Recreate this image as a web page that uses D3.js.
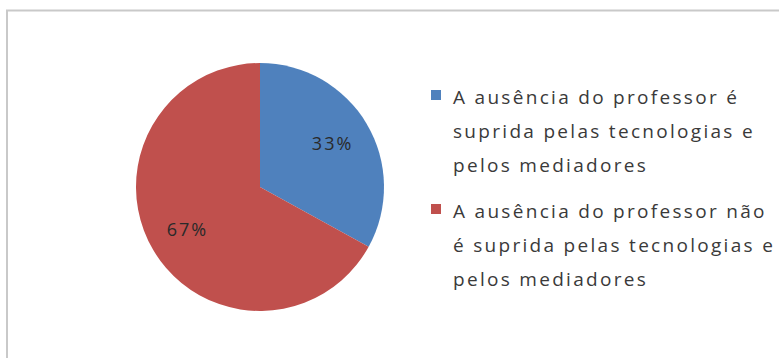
<!DOCTYPE html>
<html>
<head>
<meta charset="utf-8">
<script src="https://cdn.jsdelivr.net/npm/d3@7"></script>
<style>
  html, body { margin: 0; padding: 0; background: #fff; }
  svg { display: block; }
</style>
</head>
<body>
<svg id="chart" width="779" height="358"></svg>
<script>
// Survey answers and their shares (percent)
const categories = [
  "A ausência do professor é suprida pelas tecnologias e pelos mediadores",
  "A ausência do professor não é suprida pelas tecnologias e pelos mediadores"
];
const values = [33, 67];
const valueLabels = ["33%", "67%"];
const legendLines = [
  ["A ausência do professor é", "suprida pelas tecnologias e", "pelos mediadores"],
  ["A ausência do professor não", "é suprida pelas tecnologias e", "pelos mediadores"]
];
const colors = ["#4F81BD", "#C0504D"];

const W = 779, H = 358;
const svg = d3.select("#chart");

// chart frame (right and bottom edges fall outside the view)
svg.append("rect")
  .attr("x", 7).attr("y", 10.5)
  .attr("width", W + 10).attr("height", H + 10)
  .attr("fill", "#fff")
  .attr("stroke", "#c9c9c9")
  .attr("stroke-width", 2);

const cx = 260, cy = 187, R = 124;
const color = d3.scaleOrdinal().domain(d3.range(values.length)).range(colors);

const pie = d3.pie().sort(null).value(d => d);
const arcs = pie(values);
const arc = d3.arc().innerRadius(0).outerRadius(R);
const labelArc = d3.arc().innerRadius(R * 0.68).outerRadius(R * 0.68);

const g = svg.append("g").attr("transform", `translate(${cx},${cy})`);

g.selectAll("path.slice")
  .data(arcs)
  .join("path")
  .attr("class", "slice")
  .attr("d", arc)
  .attr("fill", (d, i) => color(i))
  .attr("stroke", "none");

g.selectAll("text.val")
  .data(arcs)
  .join("text")
  .attr("class", "val")
  .attr("transform", d => `translate(${labelArc.centroid(d)})`)
  .attr("text-anchor", "middle")
  .attr("dy", "0.35em")
  .attr("font-family", "'Open Sans', sans-serif")
  .attr("font-size", 18)
  .attr("letter-spacing", 2)
  .attr("fill", "#2a2a2a")
  .text((d, i) => valueLabels[i]);

// legend
const legendX = 431, textX = 453;
const entryY = [104, 218];
const lineH = 34;

const lg = svg.append("g");
categories.forEach((c, i) => {
  const e = lg.append("g").attr("class", "legend-item");
  e.append("title").text(c);
  e.append("rect")
    .attr("x", legendX).attr("y", entryY[i] - 14)
    .attr("width", 10).attr("height", 10)
    .attr("fill", color(i));
  const t = e.append("text")
    .attr("font-family", "'Open Sans', sans-serif")
    .attr("font-size", 19)
    .attr("letter-spacing", 2.3)
    .attr("fill", "#3a3a3a");
  legendLines[i].forEach((ln, j) => {
    t.append("tspan").attr("x", textX).attr("y", entryY[i] + j * lineH).text(ln);
  });
});
</script>
</body>
</html>
